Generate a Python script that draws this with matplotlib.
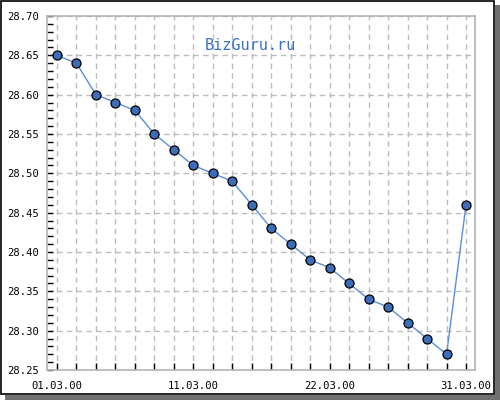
import matplotlib
matplotlib.use("Agg")
import matplotlib.pyplot as plt
from matplotlib.patches import Rectangle
from matplotlib.ticker import MultipleLocator

values = [28.65, 28.64, 28.60, 28.59, 28.58, 28.55, 28.53, 28.51, 28.50, 28.49,
          28.46, 28.43, 28.41, 28.39, 28.38, 28.36, 28.34, 28.33, 28.31, 28.29,
          28.27, 28.46]
label_positions = [0, 7, 14, 21]
label_texts = ["01.03.00", "11.03.00", "22.03.00", "31.03.00"]
y_ticks = [28.25, 28.30, 28.35, 28.40, 28.45, 28.50, 28.55, 28.60, 28.65, 28.70]

W, H = 500, 400
fig = plt.figure(figsize=(5, 4), dpi=100)
fig.patch.set_facecolor("white")
# drop shadow
fig.patches.append(Rectangle((5/W, 0), 495/W, 395/H, transform=fig.transFigure,
                             facecolor="#707070", edgecolor="none", zorder=-4))
# white gap
fig.patches.append(Rectangle((0, 5/H), 495/W, 395/H, transform=fig.transFigure,
                             facecolor="white", edgecolor="none", zorder=-3))
# bordered panel
fig.patches.append(Rectangle((0.6/W, 6.5/H), 493.5/W, 392.9/H, transform=fig.transFigure,
                             facecolor="white", edgecolor="black", linewidth=1.2, zorder=-2))

ax = fig.add_axes([47/W, 30/H, 428/W, 354/H])
ax.set_facecolor("white")
x = list(range(len(values)))
ax.plot(x, values, color="#5a8fd8", linewidth=1, zorder=3)
ax.plot(x, values, linestyle="none", marker="o", markersize=6.5,
        markerfacecolor="#3d6cb8", markeredgecolor="black", markeredgewidth=0.9, zorder=4)

ax.set_xlim(-0.51, 21.46)
ax.set_ylim(28.25, 28.70)
ax.set_xticks(x)
ax.set_xticklabels([label_texts[label_positions.index(i)] if i in label_positions else "" for i in x])
ax.set_yticks(y_ticks)
ax.set_yticklabels([f"{v:.2f}" for v in y_ticks])
ax.yaxis.set_minor_locator(MultipleLocator(0.01))

for lab in ax.get_xticklabels() + ax.get_yticklabels():
    lab.set_fontfamily("DejaVu Sans Mono")
    lab.set_fontsize(7.6)
    lab.set_color("black")

ax.tick_params(axis="x", direction="in", length=5, width=1, color="black", pad=8)
ax.tick_params(axis="y", which="major", direction="in", length=4, width=1, color="black", pad=6)
ax.tick_params(axis="y", which="minor", direction="in", length=4, width=1, color="black")

ax.grid(True, which="major", axis="both", linestyle=(0, (4, 3)), color="#bdbdbd", linewidth=1)
ax.set_axisbelow(True)
for s in ax.spines.values():
    s.set_color("#b4b4b4")
    s.set_linewidth(1.2)

fig.text(250.5/W, 1 - 45/H, "BizGuru.ru", ha="center", va="center",
         fontfamily="DejaVu Sans Mono", fontsize=11, color="#3a6fc4")

fig.savefig("out.png", dpi=100)
